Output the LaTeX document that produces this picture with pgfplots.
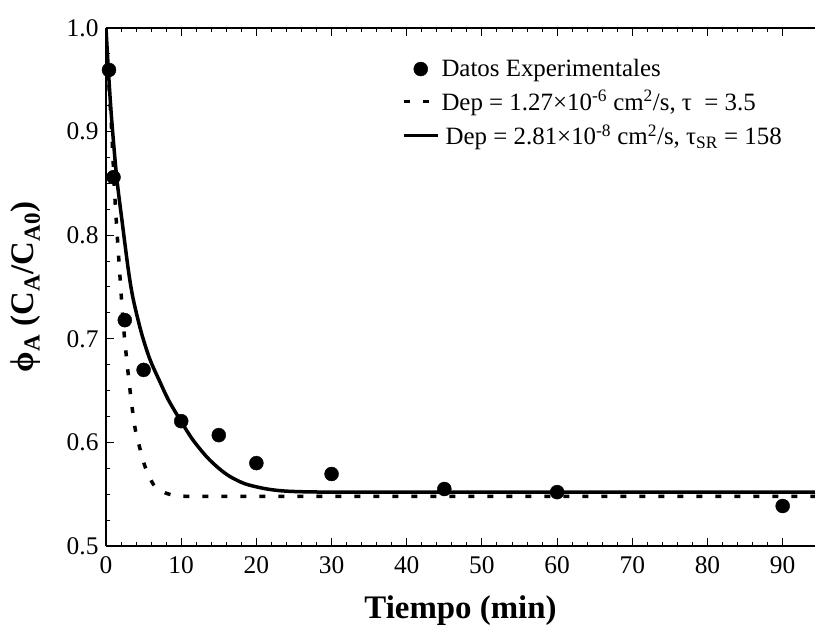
\documentclass[border=0pt]{standalone}
\usepackage{fontspec}
\setmainfont{Liberation Serif}
\usepackage{pgfplots}
\pgfplotsset{compat=1.18}

\begin{document}
\begin{tikzpicture}
\begin{axis}[
  scale only axis, width=709bp, height=518bp,
  xmin=0, xmax=94.3, ymin=0.5, ymax=1.0,
  axis x line=box, axis y line=left,
  axis line style={-, line width=1.2bp, black},
  tick align=inside, major tick length=8bp, minor tick length=4bp,
  every tick/.style={line width=1bp, black},
  xtick={0,10,20,30,40,50,60,70,80,90}, minor x tick num=4,
  ytick={0.5,0.6,0.7,0.8,0.9,1.0}, minor y tick num=3,
  yticklabel style={/pgf/number format/fixed, /pgf/number format/fixed zerofill,
    /pgf/number format/precision=1, xshift=-4bp},
  xticklabel style={yshift=-7bp},
  /pgf/number format/assume math mode=true,
  tick label style={font=\fontsize{25.5}{28}\selectfont},
  xlabel={\textbf{Tiempo (min)}},
  ylabel={\textbf{ϕ\textsubscript{A} (C\textsubscript{A}/C\textsubscript{A0})}},
  label style={font=\fontsize{33}{36}\selectfont},
  xlabel style={at={(axis description cs:0.5,-0.124)}, anchor=center},
  ylabel style={at={(axis description cs:-0.114,0.5)}, anchor=center},
  legend image code/.code={\draw[mark repeat=2, mark phase=2, #1]
    plot coordinates {(0bp,0bp) (17bp,0bp) (34bp,0bp)};},
  legend style={draw=none, fill=none, at={(axis description cs:0.413,0.947)},
    anchor=north west, font=\fontsize{25}{29}\selectfont, row sep=8bp},
  legend cell align=left,
]
\addlegendimage{only marks, mark=*, mark size=7bp, black}
\addlegendentry{Datos Experimentales}
\addlegendimage{black, line width=3.5bp, dash pattern=on 6bp off 13bp}
\addlegendentry{Dep = 1.27×10\textsuperscript{-6} cm\textsuperscript{2}/s, τ \ = 3.5}
\addlegendimage{black, line width=3.5bp}
\addlegendentry{\,Dep = 2.81×10\textsuperscript{-8} cm\textsuperscript{2}/s, τ\textsubscript{SR} = 158}

% dotted model curve
\addplot[forget plot, black, line width=3.5bp, dash pattern=on 6bp off 13bp, smooth, tension=0.5]
  coordinates {(0,1.0) (0.35,0.95) (0.76,0.90) (1.2,0.834) (1.86,0.76) (2.4,0.706)
  (3.2,0.65) (3.86,0.614) (4.5,0.5945) (5.2,0.5765) (6.3,0.5595) (7.5,0.5525)
  (8.95,0.549) (10.5,0.548) (13,0.548) (20,0.548) (40,0.548) (94.3,0.548)};

% solid model curve
\addplot[forget plot, black, line width=3.5bp, smooth, tension=0.5]
  coordinates {(0,1.0) (0.35,0.955) (0.76,0.911) (1.42,0.856) (2.2,0.81) (3.0,0.765)
  (3.63,0.738) (4.7,0.706) (5.85,0.68) (7.2,0.658) (8.3,0.641) (9.84,0.622)
  (11.5,0.603) (13.4,0.586) (15,0.575) (16.5,0.567) (18.5,0.56) (20.9,0.5557)
  (23,0.5535) (25.4,0.5525) (30,0.552) (40,0.552) (94.3,0.552)};

% experimental data
\addplot[forget plot, only marks, mark=*, mark size=7bp, black]
  coordinates {(0.4,0.9595) (1,0.856) (2.5,0.718) (5,0.67) (10,0.6205) (15,0.607)
  (20,0.58) (30,0.5695) (45,0.555) (60,0.552) (90,0.5386)};
\end{axis}
\pgfresetboundingbox
\path[use as bounding box] ([shift={(-106bp,-83bp)}]current axis.south west)
  rectangle ([shift={(0bp,28bp)}]current axis.north east);
\end{tikzpicture}
\end{document}
